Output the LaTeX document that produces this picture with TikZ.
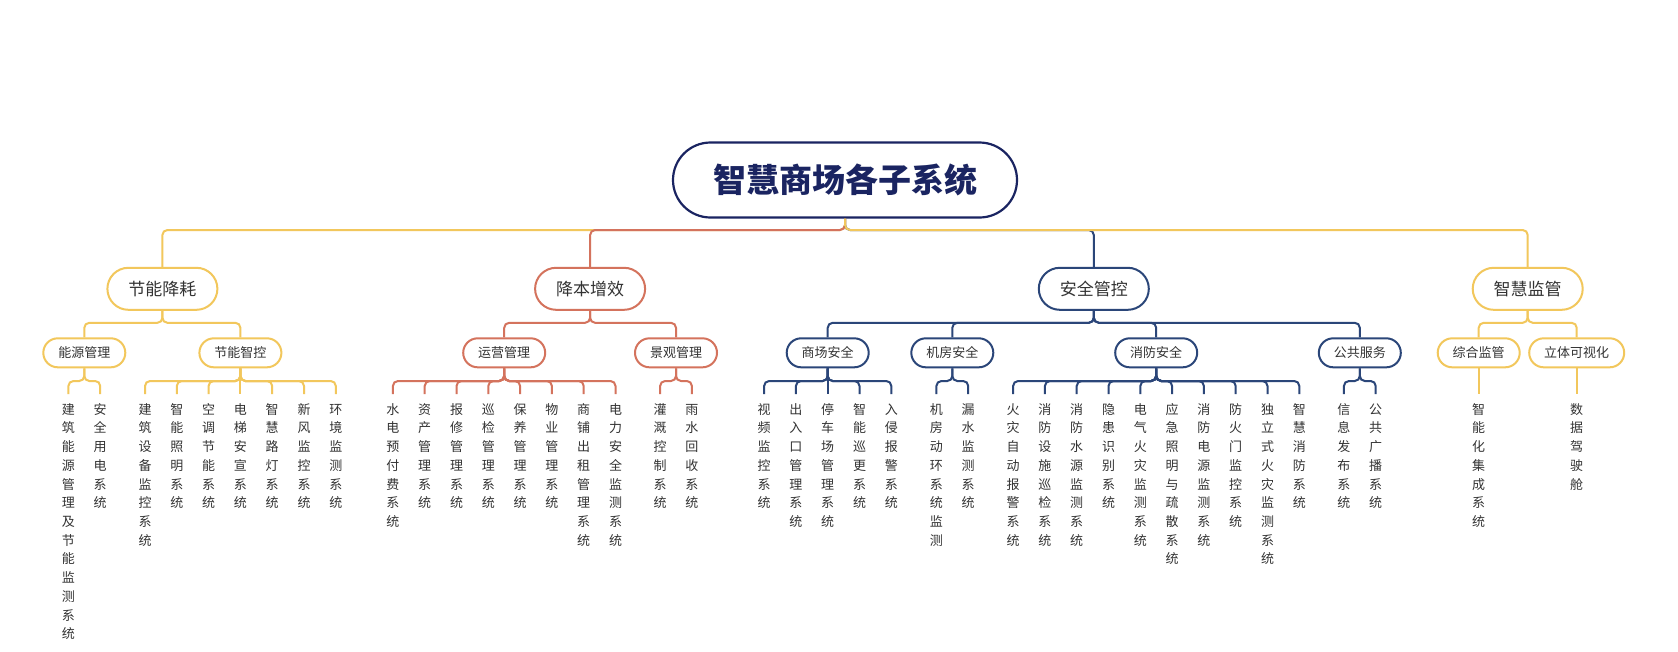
\documentclass[tikz,border=0pt]{standalone}
\usepackage{fontspec}
\setmainfont{Noto Sans CJK SC}
\definecolor{yel}{HTML}{F2C75C}
\definecolor{terra}{HTML}{D4735D}
\definecolor{navy}{HTML}{2B4679}
\definecolor{rootc}{HTML}{1A2461}
\definecolor{txt}{HTML}{333333}
\let\vtend\relax
\def\vtloop#1{\ifx\vtend#1\else\hbox to 1em{\hss\vrule height .88em depth .12em width 0pt\relax #1\hss}\expandafter\vtloop\fi}
\newcommand\vtxt[1]{\vtop{\baselineskip=18.73pt\lineskiplimit=-100pt\lineskip=0pt\expandafter\vtloop#1\vtend}}
\begin{document}
\begin{tikzpicture}[x=1pt,y=-1pt,
 l0/.style={draw=rootc, line width=2.2pt, rounded corners=37.5pt, minimum width=344pt, minimum height=75pt, inner sep=0pt, text=rootc, font=\fontsize{33}{33}\selectfont\bfseries, text height=29pt, text depth=4pt},
 l1/.style={draw, fill=white, line width=2pt, rounded corners=21pt, minimum width=110pt, minimum height=42pt, inner sep=0pt, text=txt, font=\fontsize{17}{17}\selectfont, text height=15pt, text depth=2pt},
 l2/.style={draw, fill=white, line width=2pt, rounded corners=14.5pt, minimum width=82pt, minimum height=29pt, inner xsep=15pt, inner ysep=0pt, text=txt, font=\fontsize{13}{13}\selectfont, text height=11.4pt, text depth=1.6pt},
 leaf/.style={anchor=north, inner xsep=0pt, inner ysep=8.5pt, text=txt, font=\fontsize{13}{18.73}\selectfont},
 cn/.style={line width=2pt, rounded corners=5pt},
]
\fill[white] (0,0) rectangle (1678,651);
\useasboundingbox (0,0) rectangle (1678,651);

% root
\node[l0] (root) at (845,180) {智慧商场各子系统};

% level 1
\node[l1, draw=yel]   (ga) at (162.4,288.8) {节能降耗};
\node[l1, draw=terra] (gb) at (590.1,288.8) {降本增效};
\node[l1, draw=navy]  (gc) at (1093.8,288.8) {安全管控};
\node[l1, draw=yel]   (gd) at (1527.7,288.8) {智慧监管};

\draw[cn, yel]   (root.south) -- ++(0,11.4) -| (ga.north);
\draw[cn, terra] (root.south) -- ++(0,11.4) -| (gb.north);
\draw[cn, navy]  (root.south) -- ++(0,11.4) -| (gc.north);
\draw[cn, yel]   (root.south) -- ++(0,11.4) -| (gd.north);

% level 2
\node[l2, draw=yel]   (a1) at (84.3,352.8)  {能源管理};
\node[l2, draw=yel]   (a2) at (240.4,352.8) {节能智控};
\node[l2, draw=terra] (b1) at (504.2,352.8) {运营管理};
\node[l2, draw=terra] (b2) at (676,352.8)   {景观管理};
\node[l2, draw=navy]  (c1) at (827.7,352.8) {商场安全};
\node[l2, draw=navy]  (c2) at (952.3,352.8) {机房安全};
\node[l2, draw=navy]  (c3) at (1156.2,352.8) {消防安全};
\node[l2, draw=navy]  (c4) at (1359.8,352.8) {公共服务};
\node[l2, draw=yel]   (d1) at (1478.7,352.8) {综合监管};
\node[l2, draw=yel]   (d2) at (1576.7,352.8) {立体可视化};

\foreach \c in {a1,a2} {\draw[cn, yel] (ga.south) -- ++(0,12) -| (\c.north);}
\foreach \c in {b1,b2} {\draw[cn, terra] (gb.south) -- ++(0,12) -| (\c.north);}
\foreach \c in {c1,c2,c3,c4} {\draw[cn, navy] (gc.south) -- ++(0,12) -| (\c.north);}
\foreach \c in {d1,d2} {\draw[cn, yel] (gd.south) -- ++(0,12) -| (\c.north);}

% leaves
\foreach \t [count=\i] in {建筑能源管理及节能监测系统,安全用电系统} {
  \node[leaf] (a1l\i) at ({84.3+31.8*(\i-1.5)},394) {\vtxt{\t}};
  \draw[cn, yel] (a1.south) -- ++(0,12.7) -| (a1l\i.north);
}
\foreach \t [count=\i] in {建筑设备监控系统,智能照明系统,空调节能系统,电梯安宣系统,智慧路灯系统,新风监控系统,环境监测系统} {
  \node[leaf] (a2l\i) at ({240.4+31.8*(\i-4)},394) {\vtxt{\t}};
  \draw[cn, yel] (a2.south) -- ++(0,12.7) -| (a2l\i.north);
}
\foreach \t [count=\i] in {水电预付费系统,资产管理系统,报修管理系统,巡检管理系统,保养管理系统,物业管理系统,商铺出租管理系统,电力安全监测系统} {
  \node[leaf] (b1l\i) at ({504.2+31.8*(\i-4.5)},394) {\vtxt{\t}};
  \draw[cn, terra] (b1.south) -- ++(0,12.7) -| (b1l\i.north);
}
\foreach \t [count=\i] in {灌溉控制系统,雨水回收系统} {
  \node[leaf] (b2l\i) at ({676+31.8*(\i-1.5)},394) {\vtxt{\t}};
  \draw[cn, terra] (b2.south) -- ++(0,12.7) -| (b2l\i.north);
}
\foreach \t [count=\i] in {视频监控系统,出入口管理系统,停车场管理系统,智能巡更系统,入侵报警系统} {
  \node[leaf] (c1l\i) at ({827.7+31.8*(\i-3)},394) {\vtxt{\t}};
  \draw[cn, navy] (c1.south) -- ++(0,12.7) -| (c1l\i.north);
}
\foreach \t [count=\i] in {机房动环系统监测,漏水监测系统} {
  \node[leaf] (c2l\i) at ({952.3+31.8*(\i-1.5)},394) {\vtxt{\t}};
  \draw[cn, navy] (c2.south) -- ++(0,12.7) -| (c2l\i.north);
}
\foreach \t [count=\i] in {火灾自动报警系统,消防设施巡检系统,消防水源监测系统,隐患识别系统,电气火灾监测系统,应急照明与疏散系统,消防电源监测系统,防火门监控系统,独立式火灾监测系统,智慧消防系统} {
  \node[leaf] (c3l\i) at ({1156.2+31.8*(\i-5.5)},394) {\vtxt{\t}};
  \draw[cn, navy] (c3.south) -- ++(0,12.7) -| (c3l\i.north);
}
\foreach \t [count=\i] in {信息发布系统,公共广播系统} {
  \node[leaf] (c4l\i) at ({1359.8+31.8*(\i-1.5)},394) {\vtxt{\t}};
  \draw[cn, navy] (c4.south) -- ++(0,12.7) -| (c4l\i.north);
}
\node[leaf] (d1l1) at (1478.7,394) {\vtxt{智能化集成系统}};
\draw[cn, yel] (d1.south) -- (d1l1.north);
\node[leaf] (d2l1) at (1576.7,394) {\vtxt{数据驾驶舱}};
\draw[cn, yel] (d2.south) -- (d2l1.north);
\end{tikzpicture}
\end{document}
